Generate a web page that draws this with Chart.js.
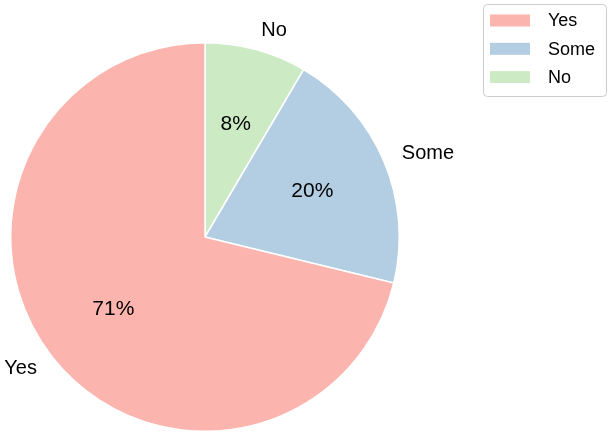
<!DOCTYPE html>
<html>
<head>
<meta charset="utf-8">
<script src="https://cdn.jsdelivr.net/npm/chart.js@4/dist/chart.umd.min.js"></script>
<style>
html,body{margin:0;padding:0;background:#fff;}
#wrap{width:613px;height:436px;position:relative;}
</style>
</head>
<body>
<div id="wrap"><canvas id="c" width="613" height="436"></canvas></div>
<script>
const categories = ['Yes', 'Some', 'No'];
const counts = [42, 12, 5];
const colors = ['#fbb4ae', '#b3cde3', '#ccebc5'];

// Chart.js draws clockwise from 12 o'clock; the reference runs counter-clockwise, so reverse.
const drawLabels = categories.slice().reverse();
const drawValues = counts.slice().reverse();
const drawColors = colors.slice().reverse();
const total = counts.reduce((a, b) => a + b, 0);

const FONT = '"Liberation Sans", Arial, Helvetica, sans-serif';

const labelPlugin = {
  id: 'pieLabels',
  afterDatasetsDraw(chart) {
    const ctx = chart.ctx;
    const meta = chart.getDatasetMeta(0);
    ctx.save();
    ctx.fillStyle = '#000';
    meta.data.forEach((arc, i) => {
      const p = arc.getProps(['x', 'y', 'startAngle', 'endAngle', 'outerRadius'], true);
      const mid = (p.startAngle + p.endAngle) / 2;
      const cos = Math.cos(mid), sin = Math.sin(mid);
      // percent label
      ctx.font = '21px ' + FONT;
      ctx.textAlign = 'center';
      ctx.textBaseline = 'middle';
      const pct = (drawValues[i] / total * 100).toFixed(0) + '%';
      ctx.fillText(pct, p.x + cos * p.outerRadius * 0.6, p.y + sin * p.outerRadius * 0.6);
      // category label
      ctx.font = '20px ' + FONT;
      const lx = p.x + cos * p.outerRadius * 1.1;
      const ly = p.y + sin * p.outerRadius * 1.1;
      ctx.textAlign = cos >= 0 ? 'left' : 'right';
      ctx.fillText(drawLabels[i], lx, ly);
    });
    ctx.restore();
  }
};

const legendPlugin = {
  id: 'customLegend',
  afterDraw(chart) {
    const ctx = chart.ctx;
    ctx.save();
    const bx = 483.5, by = 4.5, bw = 123, bh = 92, r = 4;
    ctx.beginPath();
    ctx.moveTo(bx + r, by);
    ctx.lineTo(bx + bw - r, by);
    ctx.quadraticCurveTo(bx + bw, by, bx + bw, by + r);
    ctx.lineTo(bx + bw, by + bh - r);
    ctx.quadraticCurveTo(bx + bw, by + bh, bx + bw - r, by + bh);
    ctx.lineTo(bx + r, by + bh);
    ctx.quadraticCurveTo(bx, by + bh, bx, by + bh - r);
    ctx.lineTo(bx, by + r);
    ctx.quadraticCurveTo(bx, by, bx + r, by);
    ctx.closePath();
    ctx.fillStyle = 'rgba(255,255,255,0.8)';
    ctx.fill();
    ctx.strokeStyle = '#cccccc';
    ctx.lineWidth = 1;
    ctx.stroke();
    ctx.font = '18px ' + FONT;
    ctx.textAlign = 'left';
    ctx.textBaseline = 'middle';
    categories.forEach((c, i) => {
      const cy = 20.5 + i * 28.3;
      ctx.fillStyle = colors[i];
      ctx.fillRect(490, cy - 6, 40, 12);
      ctx.fillStyle = '#000';
      ctx.fillText(c, 548, cy + 1);
    });
    ctx.restore();
  }
};

new Chart(document.getElementById('c'), {
  type: 'pie',
  data: {
    labels: drawLabels,
    datasets: [{
      data: drawValues,
      backgroundColor: drawColors,
      borderColor: '#ffffff',
      borderWidth: 1.5,
      hoverOffset: 0
    }]
  },
  options: {
    responsive: false,
    animation: false,
    rotation: 0,
    layout: { padding: { left: 10, right: 213, top: 42, bottom: 4 } },
    plugins: {
      legend: { display: false },
      tooltip: { enabled: false }
    }
  },
  plugins: [labelPlugin, legendPlugin]
});
</script>
</body>
</html>
